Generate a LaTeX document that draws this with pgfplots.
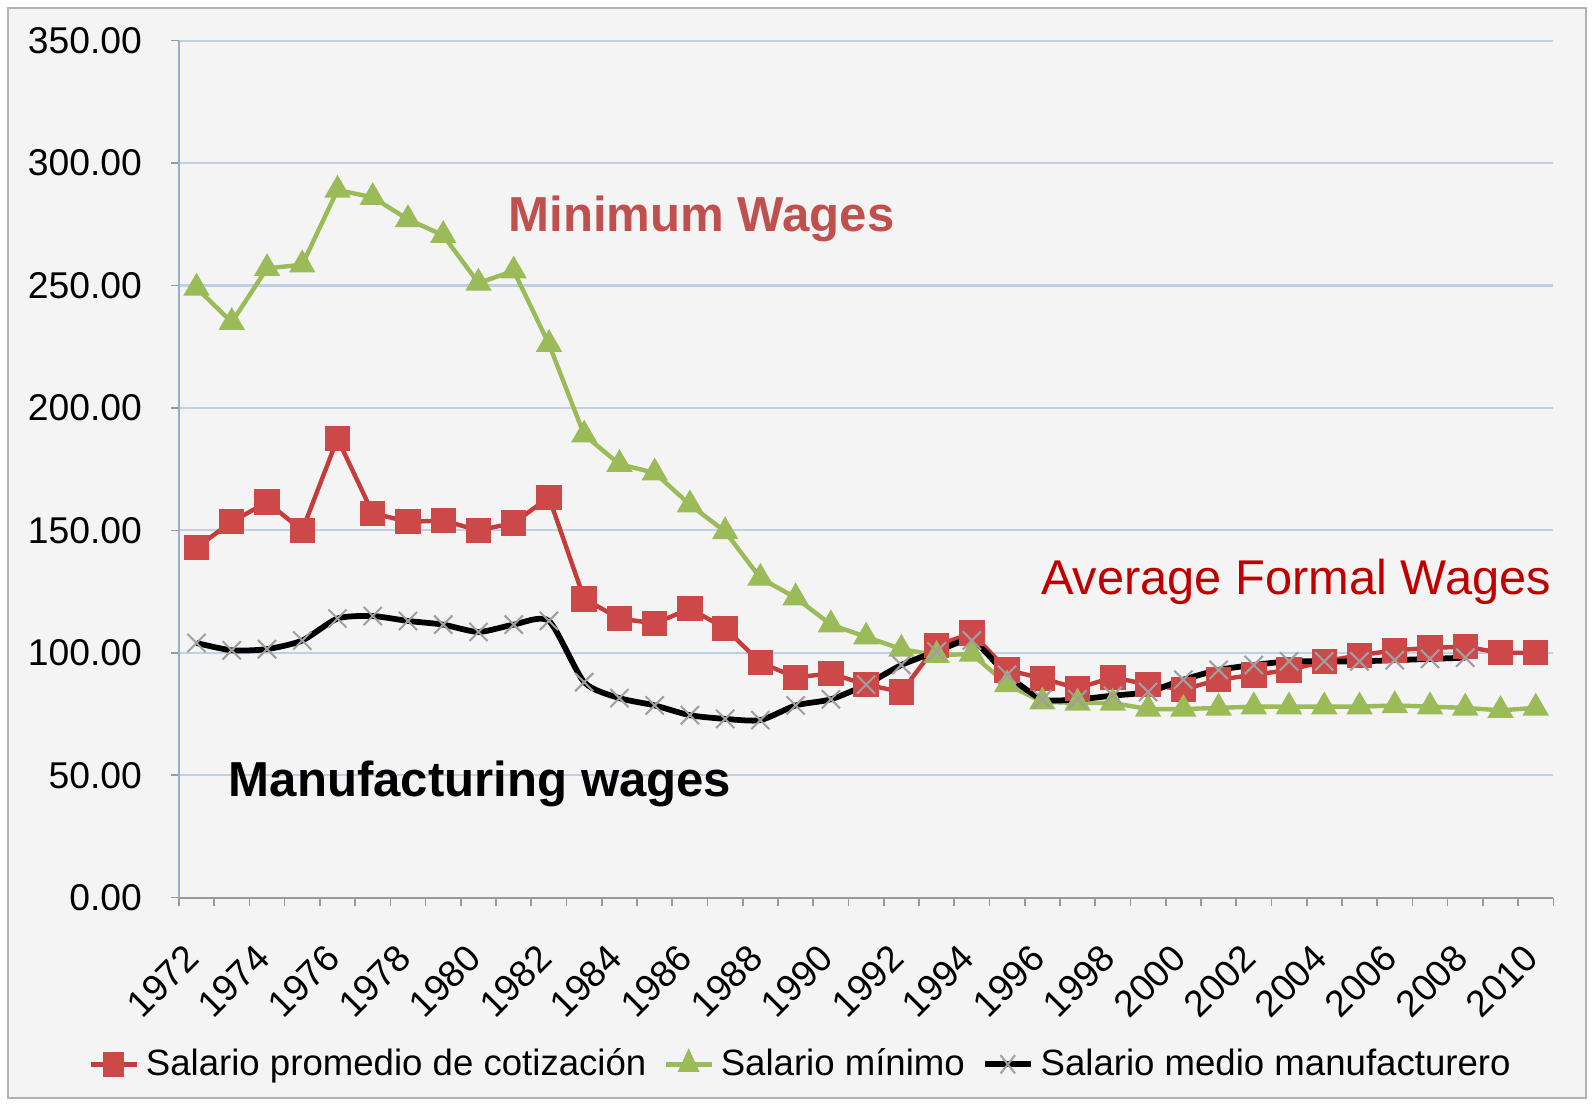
\documentclass[border=0pt]{standalone}
\usepackage{fontspec}
\setmainfont{Liberation Sans}
\usepackage{pgfplots}
\pgfplotsset{compat=1.18}
\definecolor{redS}{RGB}{196,60,60}
\definecolor{redF}{RGB}{205,72,72}
\definecolor{greenS}{RGB}{155,187,89}
\definecolor{bg}{RGB}{244,244,244}
\definecolor{gridc}{RGB}{192,208,226}
\definecolor{yaxc}{RGB}{150,175,205}
\definecolor{minred}{RGB}{192,80,77}
\definecolor{avgred}{RGB}{192,0,0}
\begin{document}
\begin{tikzpicture}
\path[use as bounding box, fill=white] (-52.8pt,-60.9pt) rectangle (417.6pt,264.9pt);
\draw[fill=bg, draw=gray!60, line width=0.8pt] (-50.4pt,-59.1pt) rectangle (415.2pt,262.5pt);
\begin{axis}[
  at={(0,0)}, anchor=south west,
  scale only axis, width=405.6pt, height=252.9pt,
  xmin=1971.5, xmax=2010.5, ymin=0, ymax=350,
  axis lines*=left,
  x axis line style={draw=gray!80, line width=0.6pt},
  y axis line style={draw=yaxc, line width=0.6pt},
  xtick={1972,1974,...,2010},
  minor xtick={1971.5,1972.5,...,2010.5},
  major x tick style={draw=none},
  minor x tick style={draw=gray!80, line width=0.5pt},
  minor tick length=2.4pt,
  ytick={0,50,...,350},
  y tick style={draw=gray!80, line width=0.5pt},
  major tick length=2.4pt,
  tick align=outside,
  ymajorgrids, grid style={gridc, line width=0.6pt},
  /pgf/number format/assume math mode=true,
  x tick label style={/pgf/number format/1000 sep={}, rotate=45, anchor=north east,
     font=\fontsize{11}{11}\selectfont, xshift=-7pt, yshift=-1.3pt},
  y tick label style={/pgf/number format/.cd, fixed, fixed zerofill, precision=2, 1000 sep={},
     /tikz/.cd, font=\fontsize{11}{11}\selectfont, xshift=-5pt},
  clip=false,
  legend style={at={(0.454,-0.1945)}, anchor=center, draw=none, fill=none,
     legend columns=3, font=\fontsize{10.8}{12}\selectfont,
     /tikz/every even column/.append style={column sep=3pt}},
  legend image post style={xscale=0.8},
]
\addplot[redS, line width=1.3pt, mark=square*, mark size=3.1pt, mark options={fill=redF, draw=redF}] coordinates {
(1972,143) (1973,153.5) (1974,161.5) (1975,150) (1976,187.5) (1977,157) (1978,153.5) (1979,154)
(1980,150) (1981,153) (1982,163.5) (1983,122) (1984,114) (1985,112) (1986,118) (1987,110)
(1988,96) (1989,90) (1990,91.5) (1991,87) (1992,84) (1993,103) (1994,108) (1995,93)
(1996,89.5) (1997,85.5) (1998,90) (1999,87) (2000,85) (2001,89) (2002,91) (2003,93)
(2004,96.5) (2005,99) (2006,101) (2007,102) (2008,102.5) (2009,100) (2010,100)};
\addlegendentry{Salario promedio de cotización}
\addplot[greenS, line width=1.3pt, mark=triangle*, mark size=3.2pt, mark options={fill=greenS, draw=greenS}] coordinates {
(1972,249) (1973,235) (1974,257) (1975,258.5) (1976,289) (1977,286) (1978,277) (1979,270.5)
(1980,251) (1981,256) (1982,226) (1983,189) (1984,177) (1985,173.5) (1986,160.5) (1987,149.5)
(1988,130.5) (1989,122.5) (1990,111.5) (1991,106.5) (1992,101.5) (1993,99) (1994,99.5) (1995,87)
(1996,80) (1997,79.5) (1998,79.5) (1999,77) (2000,77) (2001,77.5) (2002,78) (2003,78)
(2004,78) (2005,78) (2006,78.5) (2007,78) (2008,77.5) (2009,76.5) (2010,77.5)};
\addlegendentry{Salario mínimo}
\addplot[black, line width=1.7pt, smooth, tension=0.4, mark=x, mark size=3.8pt, mark options={draw=gray!75, line width=0.6pt}] coordinates {
(1972,104) (1973,101) (1974,101.5) (1975,105) (1976,114) (1977,115) (1978,113) (1979,111.5)
(1980,108.5) (1981,111.5) (1982,113) (1983,88) (1984,81.5) (1985,78.5) (1986,74.5) (1987,73)
(1988,72.5) (1989,78.5) (1990,81) (1991,87) (1992,95) (1993,100.5) (1994,105) (1995,91)
(1996,81) (1997,81) (1998,82.5) (1999,84) (2000,89) (2001,93) (2002,95) (2003,96.5)
(2004,96.5) (2005,96.5) (2006,97) (2007,97.5) (2008,98)};
\addlegendentry{Salario medio manufacturero}
\node[font=\bfseries\fontsize{14.5}{15}\selectfont, text=minred] at (axis cs:1986.33,277.3) {Minimum Wages};
\node[font=\fontsize{14.4}{15}\selectfont, text=avgred, anchor=east, inner sep=0pt] at (axis cs:2010.45,129) {Average Formal Wages};
\node[font=\bfseries\fontsize{14.5}{15}\selectfont, text=black, anchor=west, inner sep=0pt] at (axis cs:1972.9,46.5) {Manufacturing wages};
\end{axis}
\end{tikzpicture}
\end{document}
